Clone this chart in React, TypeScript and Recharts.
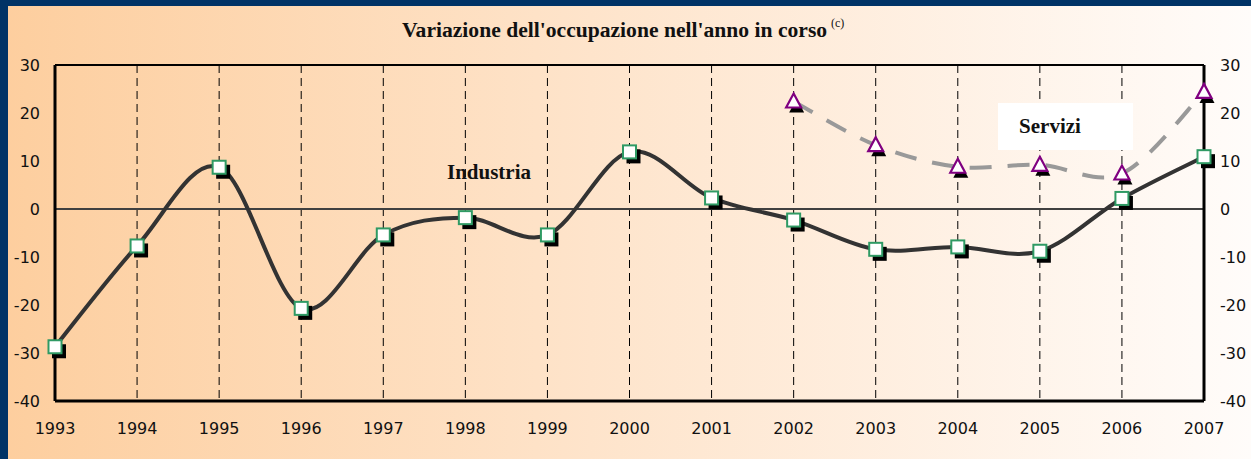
import { LineChart, Line, XAxis, YAxis, CartesianGrid, ReferenceLine } from "recharts";

// values
const years = ["1993", "1994", "1995", "1996", "1997", "1998", "1999", "2000", "2001", "2002", "2003", "2004", "2005", "2006", "2007"];
const industria = [-28.7, -7.7, 8.7, -20.7, -5.4, -1.8, -5.4, 11.9, 2.3, -2.3, -8.4, -7.9, -8.8, 2.2, 10.9];
const servizi: (number | null)[] = [null, null, null, null, null, null, null, null, null, 22.4, 13.3, 8.8, 9.2, 7.4, 24.4];
const yTicks = [-40, -30, -20, -10, 0, 10, 20, 30];

const data = years.map((y, i) => ({ year: y, industria: industria[i], servizi: servizi[i] }));

// Excel-like smoothing (catmull-rom), written as a d3 curve factory
const smooth: any = (context: any) => {
    let pts: number[][] = [];
    return {
        areaStart() {},
        areaEnd() {},
        lineStart() {
            pts = [];
        },
        point(x: number, y: number) {
            pts.push([+x, +y]);
        },
        lineEnd() {
            if (!pts.length) return;
            context.moveTo(pts[0][0], pts[0][1]);
            for (let i = 0; i < pts.length - 1; i++) {
                const p0 = pts[Math.max(i - 1, 0)];
                const p1 = pts[i];
                const p2 = pts[i + 1];
                const p3 = pts[Math.min(i + 2, pts.length - 1)];
                context.bezierCurveTo(
                    p1[0] + (p2[0] - p0[0]) / 6,
                    p1[1] + (p2[1] - p0[1]) / 6,
                    p2[0] - (p3[0] - p1[0]) / 6,
                    p2[1] - (p3[1] - p1[1]) / 6,
                    p2[0],
                    p2[1]
                );
            }
        },
    };
};

const SquareDot = (props: any) => {
    const { cx, cy, index } = props;
    if (cx == null || cy == null) return <g key={index} />;
    return (
        <g key={index}>
            <rect x={cx - 3} y={cy - 2.5} width={14} height={14} fill="#000" />
            <rect x={cx - 6.5} y={cy - 6.5} width={13} height={13} fill="#fff" stroke="#2f9a64" strokeWidth={2} />
        </g>
    );
};

const TriangleDot = (props: any) => {
    const { cx, cy, index, value } = props;
    if (cx == null || cy == null || value == null) return <g key={index} />;
    const tri = (x: number, y: number) => `${x},${y - 8} ${x + 7.5},${y + 6} ${x - 7.5},${y + 6}`;
    return (
        <g key={index}>
            <polygon points={tri(cx + 3, cy + 5)} fill="#000" />
            <polygon points={tri(cx, cy)} fill="#fff" stroke="#800080" strokeWidth={2.2} strokeLinejoin="miter" />
        </g>
    );
};

const tickFont = { fontFamily: "DejaVu Sans", fontSize: 16, fill: "#111" };
const serif = "'Liberation Serif', 'Times New Roman', serif";

export default function App() {
    return (
        <div
            style={{
                position: "fixed",
                left: 0,
                top: 0,
                width: 1251,
                height: 459,
                background: "linear-gradient(to right, #fdce9e 0%, #fee3c9 45%, #fffcfa 100%)",
            }}
        >
            <style>{"html, body { margin: 0; overflow: hidden; }"}</style>
            <div style={{ position: "absolute", left: 0, top: 0, width: 1251, height: 6, background: "#003366" }} />
            <div style={{ position: "absolute", left: 0, top: 0, width: 8, height: 459, background: "#003366" }} />
            <div style={{ position: "absolute", left: 8, top: 6 }}>
                <LineChart width={1243} height={453} data={data} margin={{ top: 59, right: 0, left: 0, bottom: 0 }}>
                    <CartesianGrid horizontal={false} stroke="#000" strokeDasharray="8 5" strokeWidth={1} yAxisId="left" />
                    <XAxis
                        dataKey="year"
                        height={58}
                        tickLine={false}
                        tickSize={0}
                        tickMargin={22}
                        tick={tickFont}
                        axisLine={{ stroke: "#000", strokeWidth: 3 }}
                        interval={0}
                    />
                    <YAxis
                        yAxisId="left"
                        width={47}
                        domain={[-40, 30]}
                        ticks={yTicks}
                        tickLine={false}
                        tickSize={0}
                        tickMargin={15}
                        tick={tickFont}
                        axisLine={{ stroke: "#000", strokeWidth: 3 }}
                        allowDataOverflow
                    />
                    <YAxis
                        yAxisId="right"
                        orientation="right"
                        width={47}
                        domain={[-40, 30]}
                        ticks={yTicks}
                        tickLine={false}
                        tickSize={0}
                        tickMargin={16}
                        tick={{ ...tickFont, textAnchor: "start" }}
                        axisLine={{ stroke: "#000", strokeWidth: 3 }}
                        allowDataOverflow
                    />
                    <ReferenceLine yAxisId="left" y={30} stroke="#000" strokeWidth={2} />
                    <ReferenceLine yAxisId="left" y={0} stroke="#404040" strokeWidth={2} />
                    <Line
                        yAxisId="left"
                        dataKey="servizi"
                        type={smooth}
                        stroke="#999999"
                        strokeWidth={4}
                        strokeDasharray="22 16"
                        dot={TriangleDot}
                        activeDot={false}
                        isAnimationActive={false}
                    />
                    <Line
                        yAxisId="left"
                        dataKey="industria"
                        type={smooth}
                        stroke="#333333"
                        strokeWidth={4}
                        dot={SquareDot}
                        activeDot={false}
                        isAnimationActive={false}
                    />
                </LineChart>
            </div>
            <svg width={1251} height={459} style={{ position: "absolute", left: 0, top: 0, pointerEvents: "none" }}>
                <text x={402} y={37} fontFamily={serif} fontWeight="bold" fontSize={21.6} fill="#111">
                    Variazione dell'occupazione nell'anno in corso
                </text>
                <text x={831} y={27} fontFamily={serif} fontSize={12} fill="#111">
                    (c)
                </text>
                <text x={489} y={179} textAnchor="middle" fontFamily={serif} fontWeight="bold" fontSize={21} fill="#111">
                    Industria
                </text>
                <rect x={998} y={103} width={135} height={47} fill="#fff" />
                <text x={1050} y={133} textAnchor="middle" fontFamily={serif} fontWeight="bold" fontSize={21} fill="#111">
                    Servizi
                </text>
            </svg>
        </div>
    );
}
